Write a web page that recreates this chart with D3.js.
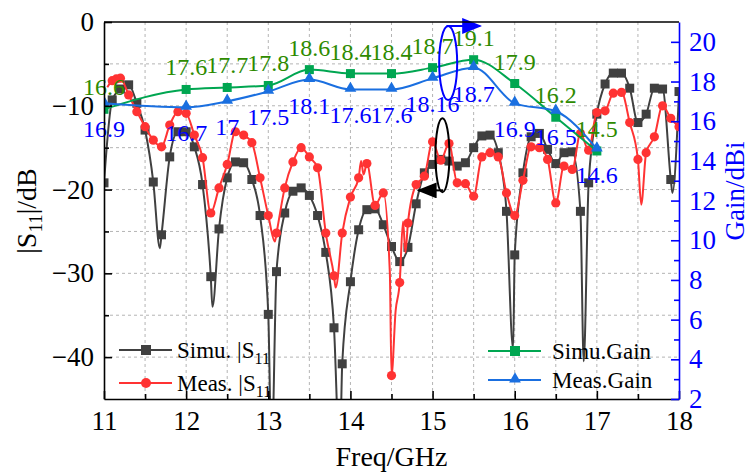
<!DOCTYPE html>
<html><head>
<meta charset="utf-8"/>
<script src="https://d3js.org/d3.v7.min.js"></script>
<style>
  body { margin: 0; padding: 0; background: #fff; }
  svg { display: block; font-family: "Liberation Serif", "Times New Roman", serif; }
</style>
</head>
<body>
<div id="chart"></div>
<script>
// Frequency ticks (GHz)
const freqTicks = [11, 12, 13, 14, 15, 16, 17, 18];
const s11Ticks = [0, -10, -20, -30, -40];
const gainTicks = [2, 4, 6, 8, 10, 12, 14, 16, 18, 20];

// Simulated |S11| (markers), [GHz, dB]
const simuS11 = [
  [11.0,-19.2],[11.1,-9.3],[11.2,-8.0],[11.3,-7.5],[11.4,-9.7],[11.5,-12.9],[11.6,-19.1],[11.7,-25.4],
  [11.8,-16.1],[11.9,-13.1],[12.0,-13.1],[12.1,-14.9],[12.2,-19.4],[12.3,-30.4],[12.4,-24.7],[12.5,-18.6],
  [12.6,-16.7],[12.7,-16.8],[12.8,-18.8],[12.9,-23.1],[13.0,-34.9],[13.1,-29.8],[13.2,-22.8],[13.3,-20.2],
  [13.4,-19.8],[13.5,-20.7],[13.6,-23.1],[13.7,-27.5],[13.8,-36.5],[13.9,-40.8],[14.0,-31.0],[14.1,-24.8],
  [14.2,-22.4],[14.3,-22.3],[14.4,-24.2],[14.5,-26.8],[14.6,-28.6],[14.7,-26.9],[14.8,-21.7],[14.9,-18.0],
  [15.0,-17.0],[15.1,-16.4],[15.2,-16.6],[15.3,-17.2],[15.4,-16.8],[15.5,-15.0],[15.6,-13.6],[15.7,-13.5],
  [15.8,-15.6],[15.9,-22.6],[16.0,-27.8],[16.1,-18.0],[16.2,-13.7],[16.3,-13.3],[16.4,-15.2],[16.5,-16.9],
  [16.6,-15.6],[16.7,-15.5],[16.8,-22.6],[16.9,-19.2],[17.0,-11.0],[17.1,-7.4],[17.2,-6.1],[17.3,-6.1],
  [17.4,-7.9],[17.5,-12.0],[17.6,-11.0],[17.7,-7.9],[17.8,-8.0],[17.9,-18.8],[18.0,-8.3]
];
// extra line-only points (resonance dips)
const simuDips = [
  [11.68,-27.0],[12.32,-34.0],[13.04,-52],[13.87,-52],[15.98,-39.0],[16.84,-40.5],[17.92,-20.4]
];

// Measured |S11| (markers), [GHz, dB]
const measS11 = [
  [11.1,-7.0],[11.15,-6.8],[11.2,-6.7],[11.3,-8.7],[11.4,-10.7],[11.5,-12.5],[11.6,-14.1],[11.7,-14.9],
  [11.8,-12.3],[11.9,-10.7],[12.0,-10.9],[12.1,-13.5],[12.2,-16.2],[12.3,-22.8],[12.4,-19.8],[12.5,-17.0],
  [12.6,-13.1],[12.7,-13.5],[12.8,-14.4],[12.9,-18.6],[13.0,-23.1],[13.1,-25.2],[13.2,-19.8],[13.3,-16.7],
  [13.4,-15.0],[13.5,-16.1],[13.6,-17.4],[13.7,-25.2],[13.8,-30.3],[13.9,-25.2],[14.0,-20.9],[14.1,-18.6],
  [14.2,-16.9],[14.3,-21.9],[14.4,-20.4],[14.5,-42.2],[14.6,-31.1],[14.7,-24.0],[14.8,-19.4],[14.9,-18.4],
  [15.0,-14.3],[15.1,-16.5],[15.2,-14.5],[15.3,-19.2],[15.4,-19.3],[15.5,-20.8],[15.6,-16.1],[15.7,-15.6],
  [15.8,-16.1],[15.9,-20.4],[16.0,-23.1],[16.1,-18.9],[16.2,-14.9],[16.3,-15.0],[16.4,-16.4],[16.5,-21.6],
  [16.6,-17.2],[16.7,-17.6],[16.8,-13.3],[16.9,-15.3],[17.0,-10.8],[17.1,-10.6],[17.2,-8.5],[17.3,-8.4],
  [17.4,-12.0],[17.5,-16.4],[17.6,-15.6],[17.7,-13.7],[17.8,-10.0],[17.9,-11.5],[18.0,-12.5]
];
const measExtra = [
  [11.04,-7.8],[13.08,-26.2],[13.82,-31.7],[14.13,-16.6],[14.16,-18.2],[14.48,-30.0],
  [14.55,-34.5],[14.64,-23.8],[14.67,-27.5],[17.54,-21.8]
];

// Gain
const gainFreq = [11, 12, 12.5, 13, 13.5, 14, 14.5, 15, 15.5, 16, 16.5, 17];
const simuGain = [16.6, 17.6, 17.7, 17.8, 18.6, 18.4, 18.4, 18.7, 19.1, 17.9, 16.2, 14.5];
const measGain = [16.9, 16.7, 17.0, 17.5, 18.1, 17.6, 17.6, 18.16, 18.7, 16.9, 16.5, 14.6];
const simuGainLabels = ["16.6","17.6","17.7","17.8","18.6","18.4","18.4","18.7","19.1","17.9","16.2","14.5"];
const measGainLabels = ["16.9","16.7","17","17.5","18.1","17.6","17.6","18.16","18.7","16.9","16.5","14.6"];

const W = 752, H = 474;
const pL = 104, pR = 679, pT = 22, pB = 399;
const GRAY = "#404040", RED = "#ff3333", GREEN = "#00a651", BLUE = "#1a6fe0";
const SERIF = "'Liberation Serif', 'Times New Roman', serif";

const svg = d3.select("#chart").append("svg").attr("width", W).attr("height", H)
  .attr("font-family", SERIF);

const x = d3.scaleLinear().domain([11, 18]).range([pL, pR]);
const yL = d3.scaleLinear().domain([-45, 0]).range([pB, pT]);
const yR = d3.scaleLinear().domain([2, 21]).range([pB, pT]);

svg.append("defs").append("clipPath").attr("id", "plot")
  .append("rect").attr("x", pL).attr("y", pT).attr("width", pR - pL).attr("height", pB - pT);

// grid lines
const grid = svg.append("g").attr("stroke", "#b4b4b4").attr("stroke-width", 1).attr("stroke-dasharray", "3,3");
[11.5,12,12.5,13,13.5,14,14.5,15,15.5,16,16.5,17,17.5].forEach(f => {
  grid.append("line").attr("x1", x(f)).attr("x2", x(f)).attr("y1", pT).attr("y2", pB);
});
[-5,-10,-15,-20,-25,-30,-35,-40].forEach(v => {
  grid.append("line").attr("x1", pL).attr("x2", pR).attr("y1", yL(v)).attr("y2", yL(v));
});

const plot = svg.append("g").attr("clip-path", "url(#plot)");
const byF = (a, b) => a[0] - b[0];

// S11 curves
const s11Line = d3.line().x(d => x(d[0])).y(d => yL(d[1])).curve(d3.curveMonotoneX);
plot.append("path").datum(simuS11.concat(simuDips).sort(byF))
  .attr("fill", "none").attr("stroke", GRAY).attr("stroke-width", 2).attr("d", s11Line);
plot.selectAll(".sq").data(simuS11).enter().append("rect")
  .attr("x", d => x(d[0]) - 4.5).attr("y", d => yL(d[1]) - 4.5)
  .attr("width", 9).attr("height", 9).attr("fill", GRAY);

plot.append("path").datum(measS11.concat(measExtra).sort(byF))
  .attr("fill", "none").attr("stroke", RED).attr("stroke-width", 2).attr("d", s11Line);
plot.selectAll(".ci").data(measS11).enter().append("circle")
  .attr("cx", d => x(d[0])).attr("cy", d => yL(d[1])).attr("r", 4.6).attr("fill", RED);

// gain curves
const gLine = d3.line().x(d => x(d.f)).y(d => yR(d.g)).curve(d3.curveMonotoneX);
const simuG = gainFreq.map((f, i) => ({ f, g: simuGain[i], t: simuGainLabels[i] }));
const measG = gainFreq.map((f, i) => ({ f, g: measGain[i], t: measGainLabels[i] }));

plot.append("path").datum(simuG).attr("fill", "none").attr("stroke", GREEN).attr("stroke-width", 2).attr("d", gLine);
plot.selectAll(".gs").data(simuG).enter().append("rect")
  .attr("x", d => x(d.f) - 4.5).attr("y", d => yR(d.g) - 4.5).attr("width", 9).attr("height", 9).attr("fill", GREEN);

plot.append("path").datum(measG).attr("fill", "none").attr("stroke", BLUE).attr("stroke-width", 2).attr("d", gLine);
const tri = d3.symbol().type(d3.symbolTriangle).size(60);
plot.selectAll(".gt").data(measG).enter().append("path")
  .attr("transform", d => `translate(${x(d.f)},${yR(d.g) - 1})`).attr("d", tri).attr("fill", BLUE);

// value labels
svg.selectAll(".ls").data(simuG).enter().append("text")
  .attr("x", d => x(d.f)).attr("y", d => yR(d.g) - 22)
  .attr("text-anchor", "middle").attr("dominant-baseline", "central")
  .attr("fill", "#2e8b00").style("font-size", "24px").text(d => d.t);
svg.selectAll(".lm").data(measG).enter().append("text")
  .attr("x", d => x(d.f)).attr("y", d => yR(d.g) + 26)
  .attr("text-anchor", "middle").attr("dominant-baseline", "central")
  .attr("fill", "#0000ff").style("font-size", "24px").text(d => d.t);

// annotations: ellipses + arrows pointing to axes
svg.append("defs").html(
  '<marker id="ak" markerWidth="10" markerHeight="8" refX="9" refY="4" orient="auto"><path d="M0,0 L10,4 L0,8 Z" fill="#000"/></marker>' +
  '<marker id="ab" markerWidth="10" markerHeight="8" refX="9" refY="4" orient="auto"><path d="M0,0 L10,4 L0,8 Z" fill="#0000ff"/></marker>');
svg.append("ellipse").attr("cx", x(15.12)).attr("cy", yL(-15.9)).attr("rx", 7).attr("ry", 37)
  .attr("fill", "none").attr("stroke", "#000").attr("stroke-width", 2);
svg.append("line").attr("x1", x(15.13)).attr("x2", x(14.83)).attr("y1", yL(-20.1)).attr("y2", yL(-20.1))
  .attr("stroke", "#000").attr("stroke-width", 2).attr("marker-end", "url(#ak)");
svg.append("ellipse").attr("cx", x(15.19)).attr("cy", yR(18.93)).attr("rx", 9).attr("ry", 37)
  .attr("fill", "none").attr("stroke", "#0000ff").attr("stroke-width", 2);
svg.append("line").attr("x1", x(15.17)).attr("x2", x(15.58)).attr("y1", yR(20.8)).attr("y2", yR(20.8))
  .attr("stroke", "#0000ff").attr("stroke-width", 2).attr("marker-end", "url(#ab)");

// axes
const minus = d => String(d).replace("-", "\u2212");
function styleAxis(g, color) {
  g.attr("font-family", SERIF).attr("font-size", 27);
  g.selectAll("path").attr("stroke", color).attr("stroke-width", 1.6);
  g.selectAll("line").attr("stroke", color).attr("stroke-width", 1.6);
  g.selectAll("text").attr("fill", color);
}
const xa = svg.append("g").attr("transform", `translate(0,${pB})`)
  .call(d3.axisBottom(x).tickValues(freqTicks).tickFormat(d3.format("d"))
    .tickSize(-8).tickSizeOuter(0).tickPadding(12));
styleAxis(xa, "#000");
svg.append("g").attr("transform", `translate(0,${pB})`)
  .call(d3.axisBottom(x).tickValues([11.5,12.5,13.5,14.5,15.5,16.5,17.5]).tickSize(-5).tickFormat(""))
  .call(g => { g.select(".domain").remove(); g.selectAll("line").attr("stroke", "#000").attr("stroke-width", 1.6); });

const ya = svg.append("g").attr("transform", `translate(${pL},0)`)
  .call(d3.axisLeft(yL).tickValues(s11Ticks).tickSize(-8).tickSizeOuter(0).tickPadding(10).tickFormat(minus));
styleAxis(ya, "#000");
svg.append("g").attr("transform", `translate(${pL},0)`)
  .call(d3.axisLeft(yL).tickValues([-5,-15,-25,-35]).tickSize(-5).tickFormat(""))
  .call(g => { g.select(".domain").remove(); g.selectAll("line").attr("stroke", "#000").attr("stroke-width", 1.6); });

const yra = svg.append("g").attr("transform", `translate(${pR},0)`)
  .call(d3.axisRight(yR).tickValues(gainTicks).tickFormat(d3.format("d"))
    .tickSize(-8).tickSizeOuter(0).tickPadding(10));
styleAxis(yra, "#0000ff");
svg.append("g").attr("transform", `translate(${pR},0)`)
  .call(d3.axisRight(yR).tickValues([3,5,7,9,11,13,15,17,19]).tickSize(-5).tickFormat(""))
  .call(g => { g.select(".domain").remove(); g.selectAll("line").attr("stroke", "#0000ff").attr("stroke-width", 1.6); });

// top frame
svg.append("line").attr("x1", pL).attr("x2", pR).attr("y1", pT).attr("y2", pT)
  .attr("stroke", "#000").attr("stroke-width", 1.6);

// axis titles
svg.append("text").attr("x", (pL + pR) / 2).attr("y", 466).attr("text-anchor", "middle")
  .style("font-size", "28px").text("Freq/GHz");
const lt = svg.append("text").attr("transform", "translate(36,211) rotate(-90)").attr("text-anchor", "middle")
  .style("font-size", "28px");
lt.append("tspan").text("|S");
lt.append("tspan").attr("dy", 6).style("font-size", "19px").text("11");
lt.append("tspan").attr("dy", -6).text("|/dB");
svg.append("text").attr("transform", "translate(744,191) rotate(-90)").attr("text-anchor", "middle")
  .attr("fill", "#0000ff").style("font-size", "27px").text("Gain/dBi");

// legends
function legendItem(x0, y0, color, kind, label, sub, gap) {
  const g = svg.append("g");
  g.append("line").attr("x1", x0).attr("x2", x0 + 53).attr("y1", y0).attr("y2", y0)
    .attr("stroke", color).attr("stroke-width", 2);
  const mx = x0 + 27;
  if (kind === "sq") g.append("rect").attr("x", mx - 5).attr("y", y0 - 5).attr("width", 10).attr("height", 10).attr("fill", color);
  if (kind === "ci") g.append("circle").attr("cx", mx).attr("cy", y0).attr("r", 5).attr("fill", color);
  if (kind === "tri") g.append("path").attr("transform", `translate(${mx},${y0 - 1})`).attr("d", tri).attr("fill", color);
  const t = g.append("text").attr("x", x0 + gap).attr("y", y0 + 8).style("font-size", "23px").text(label);
  if (sub) t.append("tspan").attr("dy", 6).style("font-size", "16px").text(sub);
}
legendItem(119, 350, GRAY, "sq", "Simu. |S", "11", 58);
legendItem(119, 383, RED, "ci", "Meas. |S", "11", 58);
legendItem(488, 351, GREEN, "sq", "Simu.Gain", null, 64);
legendItem(488, 380, BLUE, "tri", "Meas.Gain", null, 64);
</script>
</body></html>
